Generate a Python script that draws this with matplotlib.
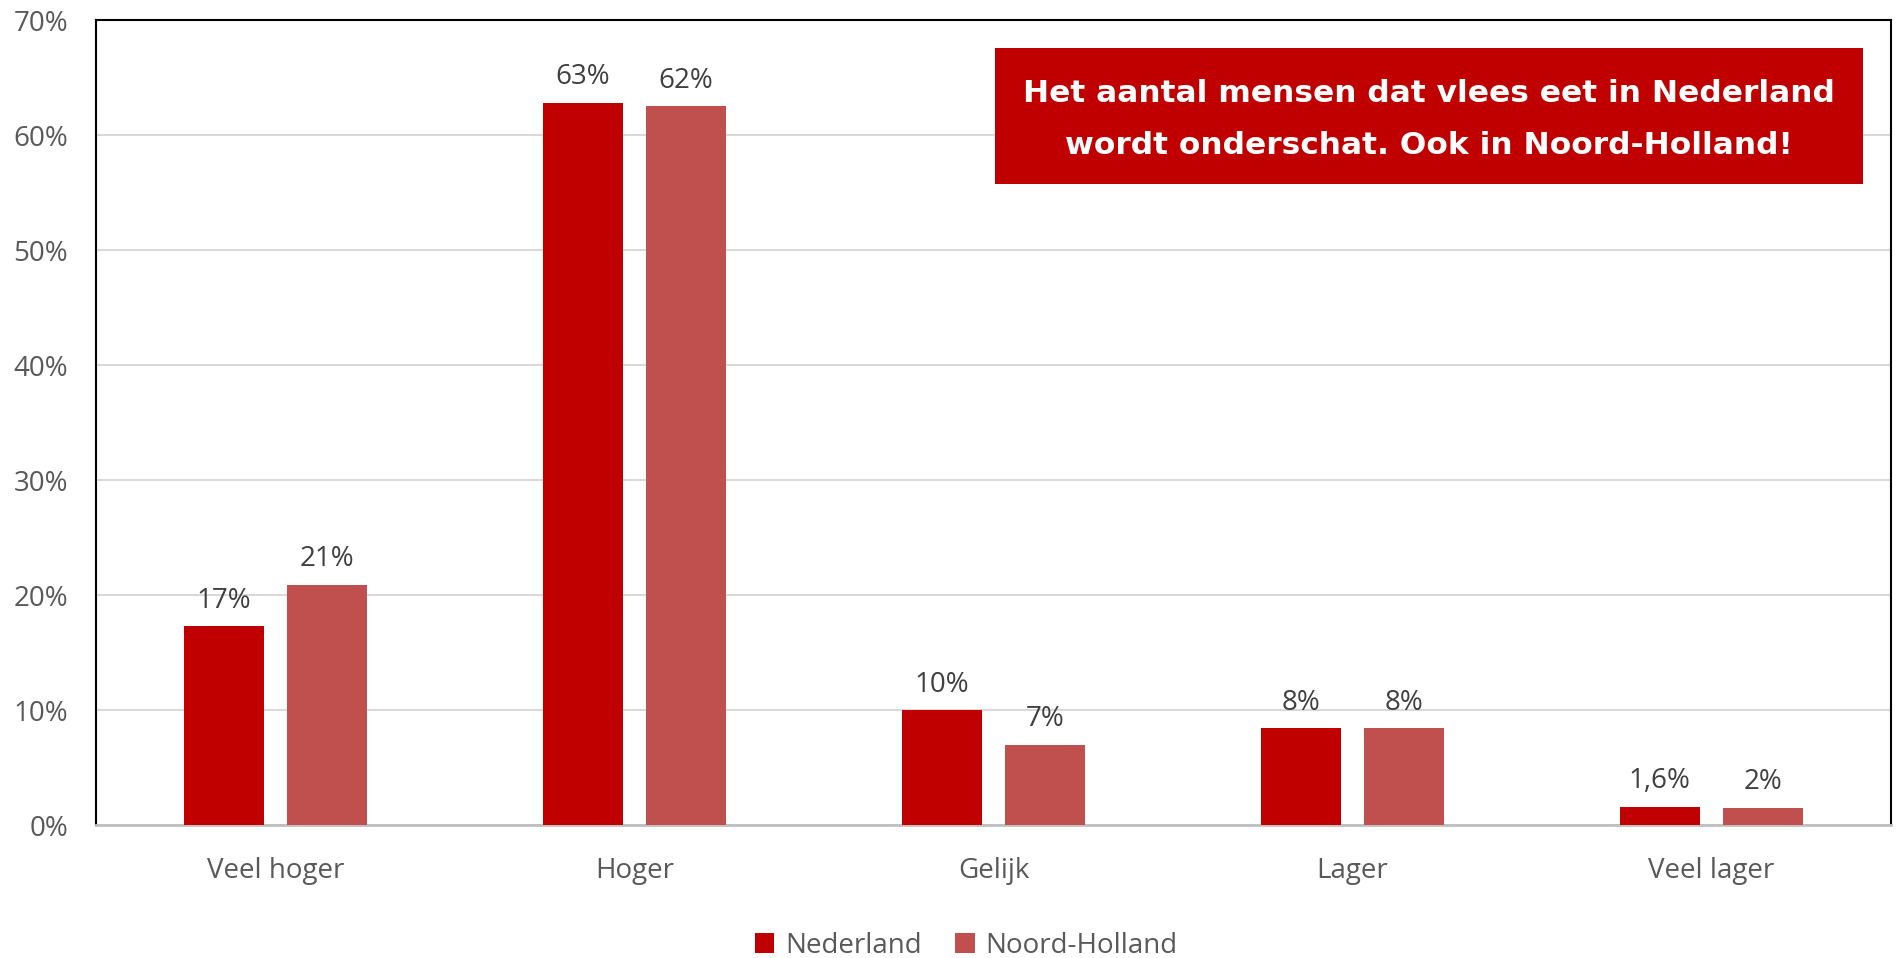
import numpy as np
import matplotlib.pyplot as plt
from matplotlib.patches import Rectangle

categories = ["Veel hoger", "Hoger", "Gelijk", "Lager", "Veel lager"]
nederland = [17.3, 62.8, 10.0, 8.4, 1.6]
noord_holland = [20.9, 62.5, 7.0, 8.4, 1.5]
labels_nl = ["17%", "63%", "10%", "8%", "1,6%"]
labels_nh = ["21%", "62%", "7%", "8%", "2%"]
series_names = ["Nederland", "Noord-Holland"]
colors = ["#C00000", "#C0504D"]
yticks = [0, 10, 20, 30, 40, 50, 60, 70]

plt.rcParams["font.family"] = ["Open Sans", "DejaVu Sans"]

fig = plt.figure(figsize=(19.02, 9.58), dpi=100)
ax = fig.add_axes([0.0505, 0.1388, 0.9437, 0.8402])

x = np.arange(len(categories))
w = 0.223
off = 0.144
b1 = ax.bar(x - off, nederland, w, color=colors[0], label=series_names[0], zorder=3)
b2 = ax.bar(x + off, noord_holland, w, color=colors[1], label=series_names[1], zorder=3)

for bars, labs in [(b1, labels_nl), (b2, labels_nh)]:
    for rect, lab in zip(bars, labs):
        ax.text(rect.get_x() + rect.get_width() / 2, rect.get_height() + 1.0, lab,
                ha="center", va="bottom", fontsize=20, color="#404040")

ax.set_xlim(-0.5, 4.5)
ax.set_ylim(0, 70)
ax.set_yticks(yticks)
ax.set_yticklabels([f"{v}%" for v in yticks])
ax.set_xticks(x)
ax.set_xticklabels(categories)
ax.tick_params(axis="both", length=0, labelsize=20, labelcolor="#595959")
ax.tick_params(axis="x", pad=23)
ax.tick_params(axis="y", pad=20)
ax.yaxis.grid(True, color="#D9D9D9", linewidth=1.5, zorder=0)
ax.set_axisbelow(True)

for s in ["left", "top", "right"]:
    ax.spines[s].set_color("black")
    ax.spines[s].set_linewidth(1.5)
ax.spines["bottom"].set_color("#BFBFBF")
ax.spines["bottom"].set_linewidth(2)

ax.add_patch(Rectangle((0.5007, 0.7964), 0.4837, 0.1689, transform=ax.transAxes,
                       facecolor="#C00000", edgecolor="none", zorder=5))
ax.text(0.7425, 0.877,
        "Het aantal mensen dat vlees eet in Nederland\nwordt onderschat. Ook in Noord-Holland!",
        transform=ax.transAxes, ha="center", va="center", fontsize=22.5, fontweight="bold",
        color="white", linespacing=2.0, family=["DejaVu Sans"], zorder=6)

fig.legend(loc="center", bbox_to_anchor=(0.508, 0.013), ncol=2, frameon=False,
           fontsize=20, labelcolor="#595959", handlelength=0.7, handleheight=0.7,
           columnspacing=1.2, handletextpad=0.4)

fig.savefig("out.png", dpi=100)
